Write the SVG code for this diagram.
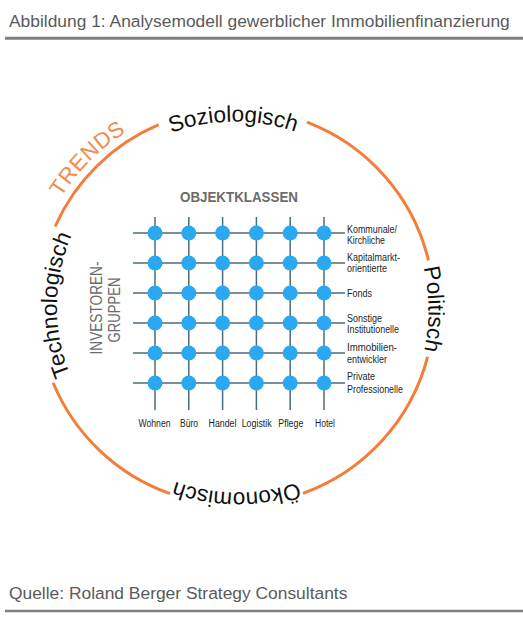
<svg xmlns="http://www.w3.org/2000/svg" xmlns:xlink="http://www.w3.org/1999/xlink" width="523" height="622" viewBox="0 0 523 622">
<style>
.hdr{font-family:"Liberation Sans",Arial,sans-serif;font-size:17.4px;fill:#5a5a5a}
.rule{stroke:#7f7f7f;fill:none}
.ring{stroke:#F47D3A;stroke-width:3;fill:none;stroke-linecap:butt}
.arc{font-family:"Liberation Sans",Arial,sans-serif;font-size:22.5px;fill:#111}
.trend{font-family:"Liberation Sans",Arial,sans-serif;font-size:22px;fill:#F38A4E;letter-spacing:0.5px}
.grid line{stroke:#4E6B7A;stroke-width:1.5}
.dot{fill:#2AA8F2}
.cap{font-family:"Liberation Sans",Arial,sans-serif;fill:#6b6b6b}
.lbl{font-family:"Liberation Sans",Arial,sans-serif;font-size:10px;fill:#1e1e1e}
</style>
<defs>
<path id="p184" d="M105.9,437.1 A184,184 0 1 1 366.1,176.9 A184,184 0 1 1 105.9,437.1"/>
<path id="p189" d="M102.4,440.6 A189,189 0 1 1 369.6,173.4 A189,189 0 1 1 102.4,440.6"/>
<path id="p179" d="M109.4,433.6 A179,179 0 1 1 362.6,180.4 A179,179 0 1 1 109.4,433.6"/>
<path id="p202" d="M93.2,449.8 A202,202 0 1 1 378.8,164.2 A202,202 0 1 1 93.2,449.8"/>
</defs>

<g id="header">
<text class="hdr" x="9" y="27.3">Abbildung 1: Analysemodell gewerblicher Immobilienfinanzierung</text>
<line class="rule" x1="5" y1="38.3" x2="523" y2="38.3" stroke-width="3"/>
</g>

<g id="ring">
<path class="ring" d="M427.6,356.9 A198,198 0 0 1 303.1,493.3"/>
<path class="ring" d="M169.9,493.6 A198,198 0 0 1 53.1,382.8"/>
<path class="ring" d="M55.1,226.5 A198,198 0 0 1 158.6,124.7"/>
<path class="ring" d="M307.0,122.1 A198,198 0 0 1 428.5,260.4"/>
</g>

<g id="trends">
<text class="trend" text-anchor="middle"><textPath xlink:href="#p202" href="#p202" startOffset="25%">TRENDS</textPath></text>
</g>
<g id="soziologisch">
<text class="arc" text-anchor="middle"><textPath xlink:href="#p184" href="#p184" startOffset="37.3%">Soziologisch</textPath></text>
</g>
<g id="politisch">
<text class="arc" text-anchor="middle"><textPath xlink:href="#p189" href="#p189" startOffset="62.6%">Politisch</textPath></text>
</g>
<g id="oekonomisch">
<text class="arc" text-anchor="middle"><textPath xlink:href="#p184" href="#p184" startOffset="87.5%">Ökonomisch</textPath></text>
</g>
<g id="technologisch">
<text class="arc" text-anchor="middle"><textPath xlink:href="#p179" href="#p179" startOffset="12.7%">Technologisch</textPath></text>
</g>

<g id="objektklassen">
<text class="cap" x="239" y="201.5" font-size="14" font-weight="bold" text-anchor="middle" textLength="118" lengthAdjust="spacingAndGlyphs">OBJEKTKLASSEN</text>
</g>
<g id="investorengruppen">
<text class="cap" font-size="17" text-anchor="middle" transform="translate(102,308) rotate(-90)" textLength="93" lengthAdjust="spacingAndGlyphs">INVESTOREN-</text>
<text class="cap" font-size="17" text-anchor="middle" transform="translate(120,310) rotate(-90)" textLength="65" lengthAdjust="spacingAndGlyphs">GRUPPEN</text>
</g>

<g id="connectors" class="grid">
<line x1="133" y1="233" x2="345" y2="233"/>
<line x1="133" y1="263" x2="345" y2="263"/>
<line x1="133" y1="293" x2="345" y2="293"/>
<line x1="133" y1="323" x2="345" y2="323"/>
<line x1="133" y1="353" x2="345" y2="353"/>
<line x1="133" y1="383" x2="345" y2="383"/>
<line x1="155" y1="217" x2="155" y2="410"/>
<line x1="188.8" y1="217" x2="188.8" y2="410"/>
<line x1="222.6" y1="217" x2="222.6" y2="410"/>
<line x1="256.4" y1="217" x2="256.4" y2="410"/>
<line x1="290.2" y1="217" x2="290.2" y2="410"/>
<line x1="324" y1="217" x2="324" y2="410"/>
</g>

<g id="nodes">
<g id="row1"><circle class="dot" cx="155" cy="233" r="7.5"/><circle class="dot" cx="188.8" cy="233" r="7.5"/><circle class="dot" cx="222.6" cy="233" r="7.5"/><circle class="dot" cx="256.4" cy="233" r="7.5"/><circle class="dot" cx="290.2" cy="233" r="7.5"/><circle class="dot" cx="324" cy="233" r="7.5"/></g>
<g id="row2"><circle class="dot" cx="155" cy="263" r="7.5"/><circle class="dot" cx="188.8" cy="263" r="7.5"/><circle class="dot" cx="222.6" cy="263" r="7.5"/><circle class="dot" cx="256.4" cy="263" r="7.5"/><circle class="dot" cx="290.2" cy="263" r="7.5"/><circle class="dot" cx="324" cy="263" r="7.5"/></g>
<g id="row3"><circle class="dot" cx="155" cy="293" r="7.5"/><circle class="dot" cx="188.8" cy="293" r="7.5"/><circle class="dot" cx="222.6" cy="293" r="7.5"/><circle class="dot" cx="256.4" cy="293" r="7.5"/><circle class="dot" cx="290.2" cy="293" r="7.5"/><circle class="dot" cx="324" cy="293" r="7.5"/></g>
<g id="row4"><circle class="dot" cx="155" cy="323" r="7.5"/><circle class="dot" cx="188.8" cy="323" r="7.5"/><circle class="dot" cx="222.6" cy="323" r="7.5"/><circle class="dot" cx="256.4" cy="323" r="7.5"/><circle class="dot" cx="290.2" cy="323" r="7.5"/><circle class="dot" cx="324" cy="323" r="7.5"/></g>
<g id="row5"><circle class="dot" cx="155" cy="353" r="7.5"/><circle class="dot" cx="188.8" cy="353" r="7.5"/><circle class="dot" cx="222.6" cy="353" r="7.5"/><circle class="dot" cx="256.4" cy="353" r="7.5"/><circle class="dot" cx="290.2" cy="353" r="7.5"/><circle class="dot" cx="324" cy="353" r="7.5"/></g>
<g id="row6"><circle class="dot" cx="155" cy="383" r="7.5"/><circle class="dot" cx="188.8" cy="383" r="7.5"/><circle class="dot" cx="222.6" cy="383" r="7.5"/><circle class="dot" cx="256.4" cy="383" r="7.5"/><circle class="dot" cx="290.2" cy="383" r="7.5"/><circle class="dot" cx="324" cy="383" r="7.5"/></g>
</g>

<g id="row-labels">
<text class="lbl" x="347" y="233.3" textLength="50" lengthAdjust="spacingAndGlyphs">Kommunale/</text>
<text class="lbl" x="347" y="244" textLength="38" lengthAdjust="spacingAndGlyphs">Kirchliche</text>
<text class="lbl" x="347" y="261" textLength="53" lengthAdjust="spacingAndGlyphs">Kapitalmarkt-</text>
<text class="lbl" x="347" y="272" textLength="40" lengthAdjust="spacingAndGlyphs">orientierte</text>
<text class="lbl" x="347" y="297.3" textLength="25" lengthAdjust="spacingAndGlyphs">Fonds</text>
<text class="lbl" x="347" y="321.5" textLength="35" lengthAdjust="spacingAndGlyphs">Sonstige</text>
<text class="lbl" x="347" y="332.5" textLength="52" lengthAdjust="spacingAndGlyphs">Institutionelle</text>
<text class="lbl" x="347" y="351.3" textLength="50" lengthAdjust="spacingAndGlyphs">Immobilien-</text>
<text class="lbl" x="347" y="362.7" textLength="40" lengthAdjust="spacingAndGlyphs">entwickler</text>
<text class="lbl" x="347" y="380.3" textLength="28" lengthAdjust="spacingAndGlyphs">Private</text>
<text class="lbl" x="347" y="392.7" textLength="56" lengthAdjust="spacingAndGlyphs">Professionelle</text>
</g>

<g id="column-labels">
<text class="lbl" x="154.5" y="427.3" text-anchor="middle" textLength="32" lengthAdjust="spacingAndGlyphs">Wohnen</text>
<text class="lbl" x="189" y="427.3" text-anchor="middle" textLength="18" lengthAdjust="spacingAndGlyphs">Büro</text>
<text class="lbl" x="222.5" y="427.3" text-anchor="middle" textLength="28" lengthAdjust="spacingAndGlyphs">Handel</text>
<text class="lbl" x="256.7" y="427.3" text-anchor="middle" textLength="30" lengthAdjust="spacingAndGlyphs">Logistik</text>
<text class="lbl" x="290.8" y="427.3" text-anchor="middle" textLength="25" lengthAdjust="spacingAndGlyphs">Pflege</text>
<text class="lbl" x="325" y="427.3" text-anchor="middle" textLength="20" lengthAdjust="spacingAndGlyphs">Hotel</text>
</g>

<g id="footer">
<text class="hdr" x="9" y="599.3">Quelle: Roland Berger Strategy Consultants</text>
<line class="rule" x1="5" y1="611" x2="523" y2="611" stroke-width="2.5"/>
</g>
</svg>
